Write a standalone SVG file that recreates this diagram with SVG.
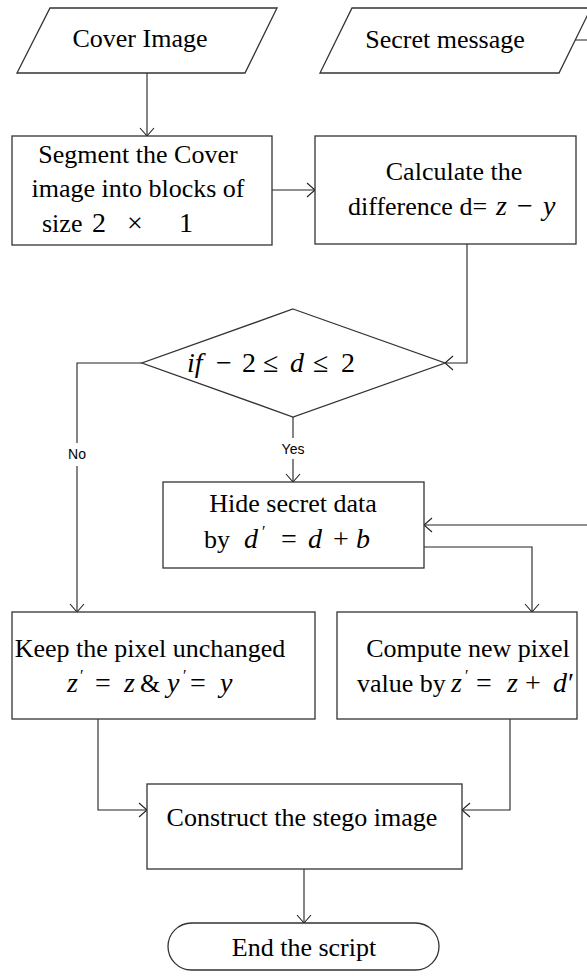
<svg xmlns="http://www.w3.org/2000/svg" width="587" height="977" viewBox="0 0 587 977">
<style>
.shape{fill:#fff;stroke:#333;stroke-width:1.3}
.conn{fill:none;stroke:#222;stroke-width:1.1}
.t{font-family:"Liberation Serif","Times New Roman",serif;font-size:26px;fill:#000;text-anchor:middle}
.ts{font-family:"Liberation Serif","Times New Roman",serif;font-size:26px;fill:#000;text-anchor:start}
.mt{font-family:"Liberation Serif","Times New Roman",serif;font-size:28px;fill:#000;text-anchor:start}
.i{font-style:italic}
.p{font-size:16px}
.lbl{font-family:"Liberation Sans",Arial,sans-serif;font-size:14px;fill:#000;text-anchor:middle}
</style>
<defs>
<marker id="arr" viewBox="-10 -8 12 16" refX="0" refY="0" markerWidth="12" markerHeight="16" markerUnits="userSpaceOnUse" orient="auto" overflow="visible">
<path d="M-8,-7 L0,0 L-8,7" fill="none" stroke="#222" stroke-width="1.1"/>
</marker>
</defs>
<rect width="587" height="977" fill="#fff"/>
<g id="connectors">
<path class="conn" d="M147,73 V136" marker-end="url(#arr)"/>
<path class="conn" d="M272,190 H315" marker-end="url(#arr)"/>
<path class="conn" d="M467,244 V363 H445" marker-end="url(#arr)"/>
<path class="conn" d="M293,417 V482" marker-end="url(#arr)"/>
<path class="conn" d="M142,363 H77 V612" marker-end="url(#arr)"/>
<path class="conn" d="M424,547 H532 V612" marker-end="url(#arr)"/>
<path class="conn" d="M575,40 H600 V525 H424" marker-end="url(#arr)"/>
<path class="conn" d="M98,719 V810 H147" marker-end="url(#arr)"/>
<path class="conn" d="M510,719 V810 H462" marker-end="url(#arr)"/>
<path class="conn" d="M304,869 V923" marker-end="url(#arr)"/>
<g id="label-yes"><rect x="280" y="438" width="26" height="21" fill="#fff"/><text class="lbl" x="293" y="454">Yes</text></g>
<g id="label-no"><rect x="66" y="443" width="22" height="23" fill="#fff"/><text class="lbl" x="77" y="459">No</text></g>
</g>
<g id="cover">
<polygon class="shape" points="50,8 277,8 245,73 17,73"/>
<text class="t" x="140" y="47">Cover Image</text>
</g>
<g id="secret">
<polygon class="shape" points="352,8 591,8 559,73 320,73"/>
<text class="t" x="445" y="48">Secret message</text>
</g>
<g id="segment">
<rect class="shape" x="12" y="136" width="260" height="109"/>
<text class="t" x="138" y="163">Segment the Cover</text>
<text class="t" x="138" y="197">image into blocks of</text>
<text class="ts" x="42" y="232">size</text>
<text class="mt" y="232"><tspan x="92">2</tspan><tspan x="127">×</tspan><tspan x="179">1</tspan></text>
</g>
<g id="calculate">
<rect class="shape" x="315" y="136" width="261" height="108"/>
<text class="t" x="454" y="180">Calculate the</text>
<text class="ts" x="348" y="215">difference d=</text>
<text class="mt" y="215"><tspan class="i" x="496">z</tspan><tspan x="517">−</tspan><tspan class="i" x="543">y</tspan></text>
</g>
<g id="decision">
<polygon class="shape" points="293,309 445,363 293,417 142,363"/>
<text class="mt" y="372"><tspan class="i" x="187">if</tspan><tspan x="216">−</tspan><tspan x="242">2</tspan><tspan x="263">≤</tspan><tspan class="i" x="290">d</tspan><tspan x="313">≤</tspan><tspan x="341">2</tspan></text>
</g>
<g id="hide">
<rect class="shape" x="163" y="482" width="261" height="86"/>
<text class="t" x="293" y="512">Hide secret data</text>
<text class="ts" x="204" y="548">by</text>
<text class="mt" y="548"><tspan class="i" x="244">d</tspan><tspan class="p" x="262" y="537">′</tspan><tspan x="281" y="548">=</tspan><tspan class="i" x="308">d</tspan><tspan x="333">+</tspan><tspan class="i" x="356">b</tspan></text>
</g>
<g id="keep">
<rect class="shape" x="12" y="612" width="303" height="107"/>
<text class="t" x="150" y="657">Keep the pixel unchanged</text>
<text class="mt" y="692"><tspan class="i" x="67">z</tspan><tspan class="p" x="80" y="681">′</tspan><tspan x="95" y="692">=</tspan><tspan class="i" x="124">z</tspan></text>
<text class="ts" x="140" y="692">&amp;</text>
<text class="mt" y="692"><tspan class="i" x="167">y</tspan><tspan class="p" x="183" y="681">′</tspan><tspan x="190" y="692">=</tspan><tspan class="i" x="220">y</tspan></text>
</g>
<g id="compute">
<rect class="shape" x="337" y="612" width="240" height="107"/>
<text class="t" x="468" y="657">Compute new pixel</text>
<text class="ts" x="357" y="692">value by</text>
<text class="mt" y="692"><tspan class="i" x="451">z</tspan><tspan class="p" x="465" y="681">′</tspan><tspan x="476" y="692">=</tspan><tspan class="i" x="507">z</tspan><tspan x="525">+</tspan><tspan class="i" x="553">d</tspan><tspan x="568">′</tspan></text>
</g>
<g id="construct">
<rect class="shape" x="147" y="784" width="315" height="85"/>
<text class="t" x="302" y="826">Construct the stego image</text>
</g>
<g id="end">
<rect class="shape" x="168" y="923" width="271" height="47" rx="23.5" ry="23.5"/>
<text class="t" x="304" y="956">End the script</text>
</g>
</svg>
